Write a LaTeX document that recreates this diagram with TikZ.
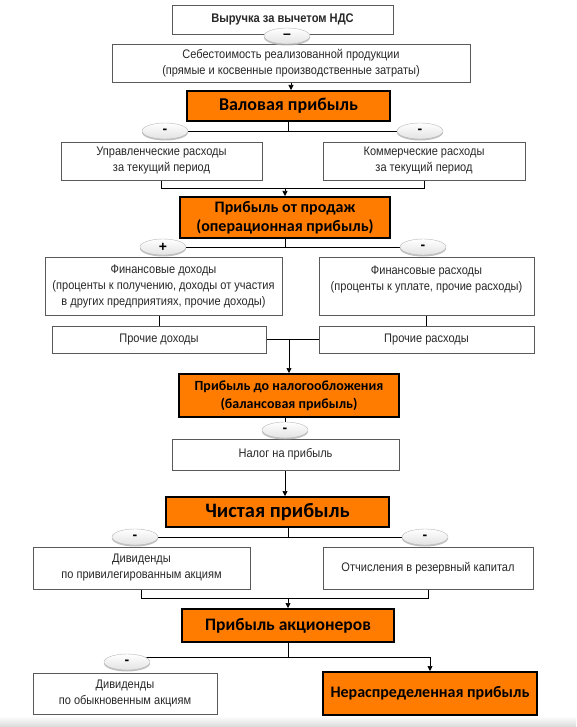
\documentclass[tikz,border=0pt]{standalone}
\usepackage{fontspec}
\setmainfont{Liberation Sans}
\newfontfamily\narrowfont[FakeStretch=0.89]{Liberation Sans}
\newfontfamily\calfont{Carlito}
\usetikzlibrary{shapes.geometric,shadows,arrows.meta}
\definecolor{orng}{RGB}{255,124,0}
\definecolor{txt}{RGB}{40,40,40}
\definecolor{boxgray}{RGB}{90,90,90}
\pgfdeclarelayer{bg}
\pgfsetlayers{bg,main}
\begin{document}
\begin{tikzpicture}[x=1pt,y=-1pt,
  wbox/.style={draw=boxgray, line width=0.8pt, fill=white, inner sep=0pt, align=center,
    font=\narrowfont\fontsize{12.4}{16}\selectfont, text=txt},
  obox/.style={draw=black, line width=2pt, fill=orng, inner sep=0pt, align=center, text=black},
  sign/.style={ellipse, minimum width=46pt, minimum height=16pt, inner sep=0pt, draw=gray!55,
    top color=white, bottom color=gray!22,
    drop shadow={shadow xshift=0pt, shadow yshift=-1.5pt, fill=gray!60, opacity=0.8},
    font=\bfseries\fontsize{14}{14}\selectfont},
  conn/.style={line width=0.7pt, draw=black},
  arr/.style={conn, -{Triangle[length=5pt,width=5pt]}}
]
\useasboundingbox (0,0) rectangle (576,727);
\shade[top color=white, bottom color=gray!30] (0,716) rectangle (576,727);

% boxes
\node[wbox, minimum width=221pt, minimum height=29pt, font=\narrowfont\bfseries\fontsize{12.5}{15}\selectfont] (n1) at (282.5,19.5) {Выручка за вычетом НДС};
\node[wbox, minimum width=358pt, minimum height=38pt] (n2) at (291,63) {Себестоимость реализованной продукции\\(прямые и косвенные производственные затраты)};
\node[obox, minimum width=203pt, minimum height=30pt, font=\calfont\bfseries\fontsize{18}{20}\selectfont] (n3) at (288.5,106) {Валовая прибыль};
\node[wbox, minimum width=201pt, minimum height=38pt] (n4) at (161.5,161) {Управленческие расходы\\за текущий период};
\node[wbox, minimum width=202pt, minimum height=38pt] (n5) at (424,161) {Коммерческие расходы\\за текущий период};
\node[obox, minimum width=210pt, minimum height=41pt, font=\calfont\bfseries\fontsize{16}{19}\selectfont] (n6) at (285,217.5) {Прибыль от продаж\\(операционная прибыль)};
\node[wbox, minimum width=237pt, minimum height=58pt] (n7) at (163.5,286) {Финансовые доходы\\(проценты к получению, доходы от участия\\в других предприятиях, прочие доходы)};
\node[wbox, minimum width=215pt, minimum height=58pt] (n8) at (426.5,286) {Финансовые расходы\\(проценты к уплате, прочие расходы)\\\mbox{}};
\node[wbox, minimum width=214pt, minimum height=27pt] (n9) at (159,339.5) {Прочие доходы};
\node[wbox, minimum width=215pt, minimum height=27pt] (n10) at (426.5,339.5) {Прочие расходы};
\node[obox, minimum width=220pt, minimum height=43pt, font=\calfont\bfseries\fontsize{14}{18}\selectfont] (n11) at (289,395.5) {Прибыль до налогообложения\\(балансовая прибыль)};
\node[wbox, minimum width=227pt, minimum height=31pt] (n12) at (285.5,454.5) {Налог на прибыль};
\node[obox, minimum width=223pt, minimum height=30pt, font=\calfont\bfseries\fontsize{20.5}{22}\selectfont] (n13) at (277.5,512) {Чистая прибыль};
\node[wbox, minimum width=217pt, minimum height=42pt] (n14) at (141.5,568) {Дивиденды\\по привилегированным акциям};
\node[wbox, minimum width=210pt, minimum height=42pt] (n15) at (428,568) {Отчисления в резервный капитал};
\node[obox, minimum width=212pt, minimum height=33pt, font=\calfont\bfseries\fontsize{17.5}{19}\selectfont] (n16) at (288,625.5) {Прибыль акционеров};
\node[wbox, minimum width=184pt, minimum height=41pt] (n17) at (125,693.5) {Дивиденды\\по обыкновенным акциям};
\node[obox, minimum width=214pt, minimum height=43pt, font=\calfont\bfseries\fontsize{16}{18}\selectfont] (n18) at (430,693.5) {Нераспределенная прибыль};

% sign ellipses
\node[sign] (e1) at (287,36) {–};
\node[sign] (e2L) at (165,131) {-};
\node[sign] (e2R) at (420,131) {-};
\node[sign] (e3L) at (163,247) {+};
\node[sign] (e3R) at (423,247) {-};
\node[sign] (e4) at (285,430) {-};
\node[sign] (e5L) at (135,537) {-};
\node[sign] (e5R) at (425,537) {-};
\node[sign] (e6) at (127,662) {-};

\coordinate (j6) at (285,188);
\coordinate (j16) at (288,598);
\coordinate (j18) at (288,657);

\begin{pgfonlayer}{bg}
\draw[arr] (n2.south) -- (n2.south |- n3.north);
\draw[conn] (n3.south) -- (n3.south |- e2L.center);
\draw[conn] (e2L.center) -- (e2R.center);
\draw[conn] (n4.south) -- (n4.south |- j6) -- (n5.south |- j6) -- (n5.south);
\draw[arr] (j6) -- (n6.north);
\draw[conn] (n6.south) -- (n6.south |- e3L.center);
\draw[conn] (e3L.center) -- (e3R.center);
\draw[conn] (n7.south -| n9.north) -- (n9.north);
\draw[conn] (n8.south) -- (n10.north);
\draw[conn] (n9.east) -- (n10.west);
\draw[arr] (n9.east -| n11.north) -- (n11.north);
\draw[conn] (n11.south -| e4.center) -- (e4.center);
\draw[arr] (n12.south -| e4.center) -- (n13.north -| e4.center);
\draw[conn] (n13.south -| j16) -- (j16 |- e5L.center);
\draw[conn] (e5L.center) -- (e5R.center);
\draw[conn] (n14.south) -- (n14.south |- j16) -- (n15.south |- j16) -- (n15.south);
\draw[arr] (j16) -- (n16.north);
\draw[conn] (n16.south) -- (j18);
\draw[conn] (e6.center |- j18) -- (j18);
\draw[arr] (j18) -| (n18.north);
\end{pgfonlayer}
\end{tikzpicture}
\end{document}
